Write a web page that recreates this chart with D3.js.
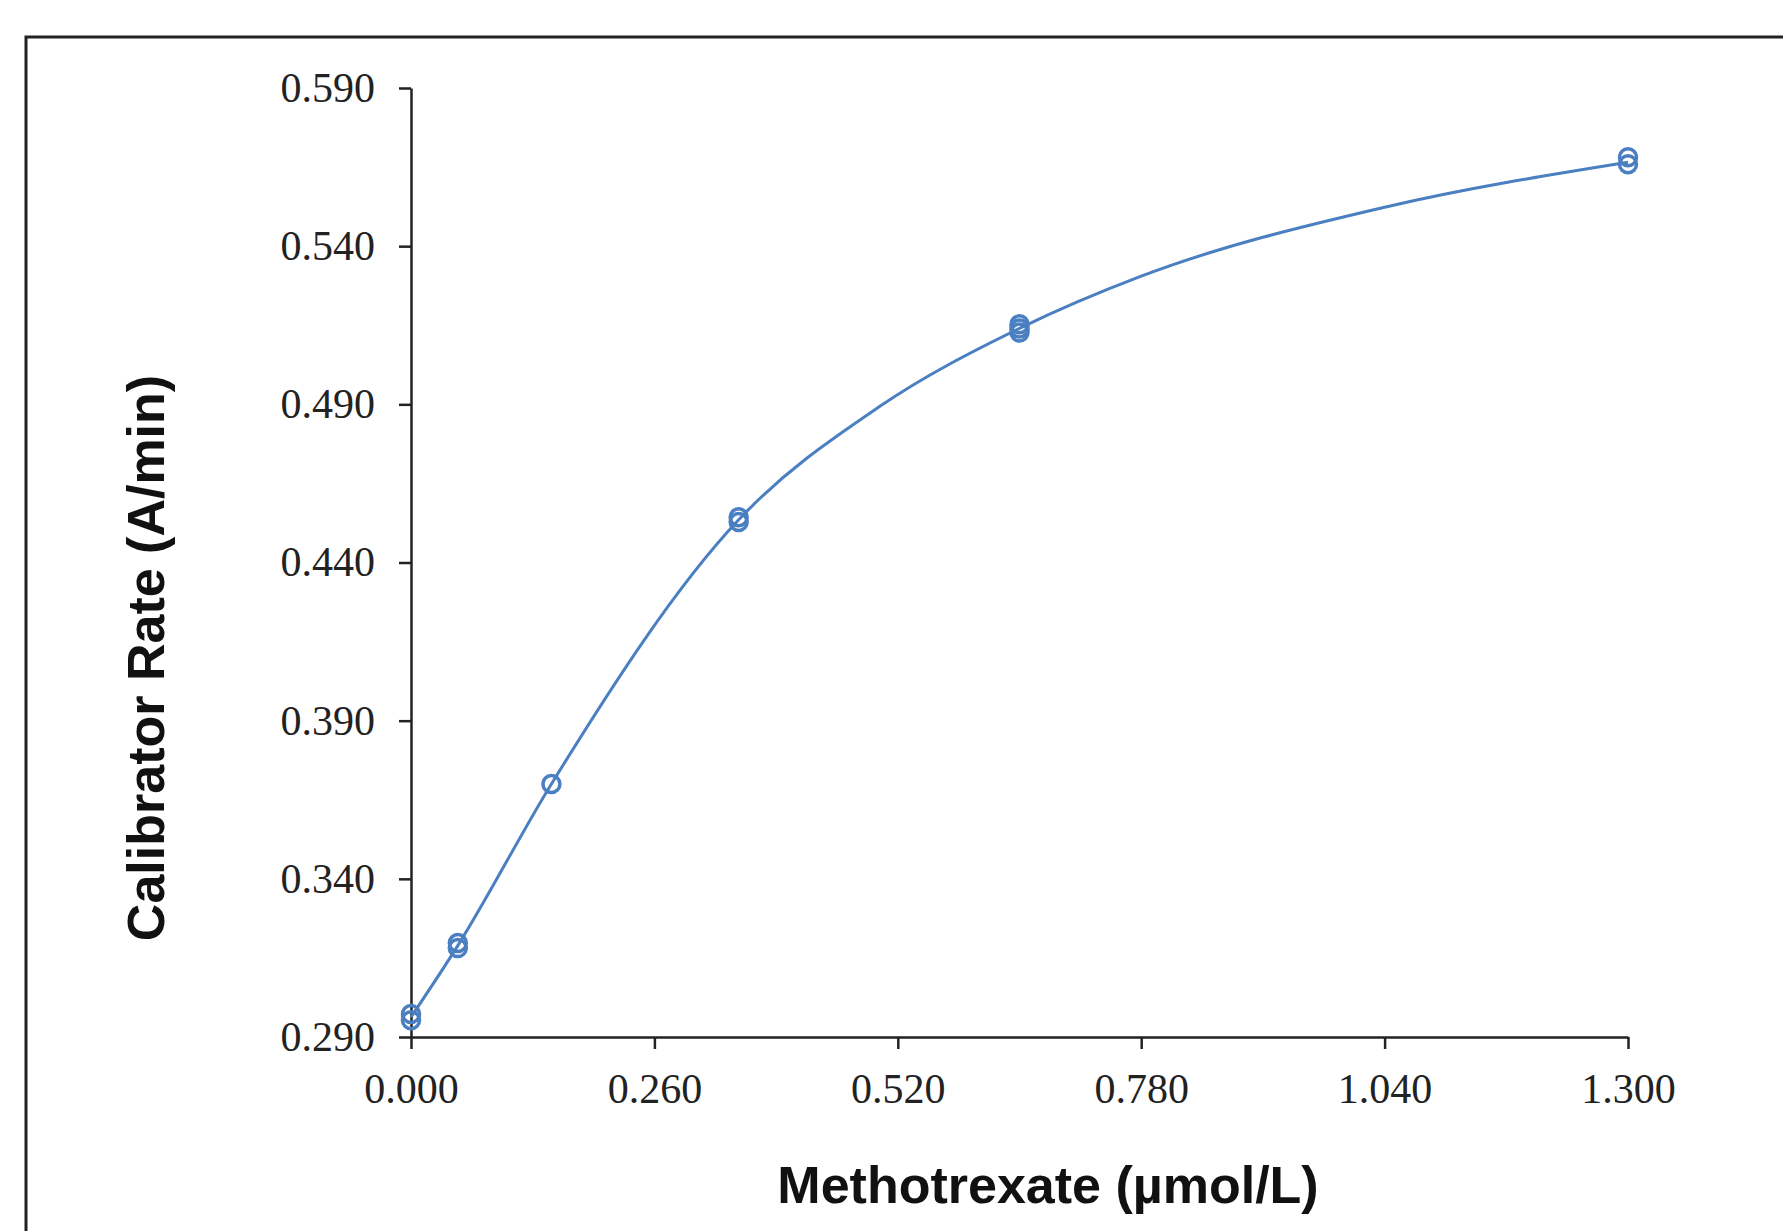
<!DOCTYPE html>
<html>
<head>
<meta charset="utf-8">
<script src="https://cdn.jsdelivr.net/npm/d3@7"></script>
<style>
  body { margin: 0; background: #fff; }
</style>
</head>
<body>
<svg id="drawing_region"></svg>
<script>
// replicate calibrators
const concentration = [0, 0, 0.05, 0.05, 0.15, 0.35, 0.35, 0.65, 0.65, 0.65, 1.3, 1.3];
const rate = [0.2973, 0.2953, 0.3197, 0.3181, 0.3700, 0.4543, 0.4528, 0.5153, 0.5140, 0.5127, 0.5681, 0.5659];

// fitted curve at a few concentrations
const fitConcentration = [0, 0.05, 0.15, 0.35, 0.50, 0.65, 0.78, 1.04, 1.3];
const fitRate = [0.2963, 0.3189, 0.3700, 0.4535, 0.4892, 0.5140, 0.5305, 0.5523, 0.5665];

const xTicks = [0, 0.26, 0.52, 0.78, 1.04, 1.3];
const yTicks = [0.29, 0.34, 0.39, 0.44, 0.49, 0.54, 0.59];

const xTitle = 'Methotrexate (µmol/L)';
const yTitle = 'Calibrator Rate (A/min)';

class CalibrationChart {

    constructor(config) {
        this.config = config;
        this.init();
    }

    init() {
        let self = this;
        const c = self.config;

        self.svg = d3.select(c.parent)
            .attr('width', c.width)
            .attr('height', c.height);

        // outer frame (only left and top edges are inside the picture)
        self.svg.append('path')
            .attr('d', `M26,${c.height + 5} V37 H${c.width + 5}`)
            .attr('fill', 'none')
            .attr('stroke', '#222')
            .attr('stroke-width', 3);

        self.chart = self.svg.append('g')
            .attr('transform', `translate(${c.margin.left}, ${c.margin.top})`);

        self.inner_width = c.width - c.margin.left - c.margin.right;
        self.inner_height = c.plot_height;

        self.xscale = d3.scaleLinear()
            .domain([0, 1.3])
            .range([0, self.inner_width]);

        self.yscale = d3.scaleLinear()
            .domain([0.29, 0.59])
            .range([self.inner_height, 0]);

        self.xaxis = d3.axisBottom(self.xscale)
            .tickValues(xTicks)
            .tickFormat(d3.format('.3f'))
            .tickSize(12)
            .tickSizeOuter(0)
            .tickPadding(24);

        self.yaxis = d3.axisLeft(self.yscale)
            .tickValues(yTicks)
            .tickFormat(d3.format('.3f'))
            .tickSize(12)
            .tickSizeOuter(0)
            .tickPadding(24);

        self.line = d3.line()
            .x(d => self.xscale(d[0]))
            .y(d => self.yscale(d[1]))
            .curve(d3.curveMonotoneX);
    }

    render() {
        let self = this;
        const c = self.config;

        const xg = self.chart.append('g')
            .attr('transform', `translate(0, ${self.inner_height})`)
            .call(self.xaxis);

        const yg = self.chart.append('g')
            .call(self.yaxis);

        [xg, yg].forEach(g => {
            g.selectAll('path, line')
                .attr('stroke', '#222')
                .attr('stroke-width', 2.5);
            g.selectAll('text')
                .attr('fill', '#222')
                .style('font-family', '"Liberation Serif", "Times New Roman", serif')
                .style('font-size', '42px');
        });

        self.chart.append('path')
            .datum(d3.zip(fitConcentration, fitRate))
            .attr('d', self.line)
            .attr('fill', 'none')
            .attr('stroke', c.color)
            .attr('stroke-width', 3);

        self.chart.selectAll('circle.pt')
            .data(d3.zip(concentration, rate))
            .join('circle')
            .attr('class', 'pt')
            .attr('cx', d => self.xscale(d[0]))
            .attr('cy', d => self.yscale(d[1]))
            .attr('r', 8.5)
            .attr('fill', 'none')
            .attr('stroke', c.color)
            .attr('stroke-width', 3.5);

        self.svg.append('text')
            .attr('x', 1048)
            .attr('y', 1203)
            .attr('text-anchor', 'middle')
            .style('font-family', '"Liberation Sans", Arial, sans-serif')
            .style('font-weight', 'bold')
            .style('font-size', '52px')
            .attr('fill', '#111')
            .text(xTitle);

        self.svg.append('text')
            .attr('transform', 'translate(164, 658) rotate(-90)')
            .attr('text-anchor', 'middle')
            .style('font-family', '"Liberation Sans", Arial, sans-serif')
            .style('font-weight', 'bold')
            .style('font-size', '52px')
            .attr('fill', '#111')
            .text(yTitle);
    }
}

const chart = new CalibrationChart({
    parent: '#drawing_region',
    width: 1783,
    height: 1231,
    margin: {top: 88, right: 155, left: 411},
    plot_height: 949,
    color: '#4a7fc1'
});
chart.render();
</script>
</body>
</html>
